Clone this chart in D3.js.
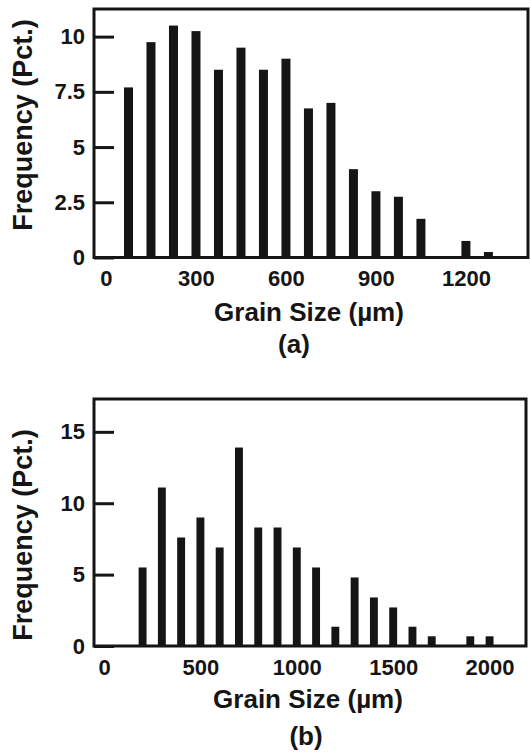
<!DOCTYPE html>
<html>
<head>
<meta charset="utf-8">
<script src="https://cdn.jsdelivr.net/npm/d3@7"></script>
<style>
  body { margin: 0; background: #ffffff; }
  svg text { font-family: "Liberation Sans", Arial, Helvetica, sans-serif; font-weight: bold; fill: #151515; }
</style>
</head>
<body>
<svg id="chart" width="530" height="752"></svg>
<script>
// panel (a)
const sizesA = [75, 150, 225, 300, 375, 450, 525, 600, 675, 750, 825, 900, 975, 1050, 1125, 1200, 1275];
const freqA = [7.7, 9.75, 10.5, 10.25, 8.5, 9.5, 8.5, 9.0, 6.75, 7.0, 4.0, 3.0, 2.75, 1.75, 0, 0.75, 0.25];
const xTicksA = [0, 300, 600, 900, 1200];
const yTicksA = [0, 2.5, 5, 7.5, 10];

// panel (b)
const sizesB = [200, 300, 400, 500, 600, 700, 800, 900, 1000, 1100, 1200, 1300, 1400, 1500, 1600, 1700, 1800, 1900, 2000];
const freqB = [5.5, 11.1, 7.6, 9.0, 6.9, 13.9, 8.3, 8.3, 6.9, 5.5, 1.35, 4.8, 3.4, 2.7, 1.35, 0.68, 0, 0.68, 0.68];
const xTicksB = [0, 500, 1000, 1500, 2000];
const yTicksB = [0, 5, 10, 15];

const xTitle = "Grain Size (\u00b5m)";
const yTitle = "Frequency (Pct.)";
const ink = "#151515";

const svg = d3.select("#chart");

function drawPanel(p) {
    const x = d3.scaleLinear().domain(p.xDomain).range([p.left, p.right]);
    const y = d3.scaleLinear().domain(p.yDomain).range([p.bottom, p.top]);
    const g = svg.append("g");

    // bars
    g.selectAll("rect.bar")
        .data(p.sizes.map((s, i) => ({ s: s, v: p.freq[i] })).filter(d => d.v > 0))
        .enter()
        .append("rect")
        .attr("class", "bar")
        .attr("x", d => x(d.s - p.binW / 2))
        .attr("width", d => x(d.s + p.binW / 2) - x(d.s - p.binW / 2))
        .attr("y", d => y(d.v))
        .attr("height", d => y(0) - y(d.v))
        .attr("fill", ink);

    // y axis, ticks pointing inward
    const yAxis = g.append("g")
        .attr("transform", "translate(" + p.left + ",0)")
        .call(d3.axisLeft(y).tickValues(p.yTicks).tickFormat(d3.format("")).tickSize(-20).tickPadding(9));
    yAxis.select(".domain").remove();
    yAxis.selectAll(".tick line").attr("stroke", ink).attr("stroke-width", 3);
    yAxis.selectAll(".tick text").style("font-size", "22px").attr("fill", ink);

    // x axis, labels only
    const xAxis = g.append("g")
        .attr("transform", "translate(0," + p.bottom + ")")
        .call(d3.axisBottom(x).tickValues(p.xTicks).tickFormat(d3.format("")).tickSize(0).tickPadding(13));
    xAxis.select(".domain").remove();
    xAxis.selectAll(".tick text").style("font-size", "22px").attr("fill", ink);

    // frame
    g.append("rect")
        .attr("x", p.left)
        .attr("y", p.top)
        .attr("width", p.right - p.left)
        .attr("height", p.bottom - p.top)
        .attr("fill", "none")
        .attr("stroke", ink)
        .attr("stroke-width", 3);

    g.append("text")
        .text(xTitle)
        .attr("x", p.titleX)
        .attr("y", p.titleY)
        .attr("text-anchor", "middle")
        .style("font-size", "26px");

    g.append("text")
        .text(p.tag)
        .attr("x", p.tagX)
        .attr("y", p.tagY)
        .attr("text-anchor", "middle")
        .style("font-size", "26px");

    g.append("text")
        .text(yTitle)
        .attr("transform", "translate(32," + p.yTitleY + ") rotate(-90)")
        .attr("text-anchor", "middle")
        .style("font-size", "27px");
}

drawPanel({
    sizes: sizesA, freq: freqA, xTicks: xTicksA, yTicks: yTicksA,
    xDomain: [-40, 1407], yDomain: [0, 11.25], binW: 30,
    left: 94, right: 528, top: 9, bottom: 257.5,
    titleX: 309, titleY: 321, tag: "(a)", tagX: 294, tagY: 353, yTitleY: 125
});

drawPanel({
    sizes: sizesB, freq: freqB, xTicks: xTicksB, yTicks: yTicksB,
    xDomain: [-52, 2189], yDomain: [0, 17.3], binW: 41,
    left: 94, right: 526, top: 399, bottom: 646,
    titleX: 308, titleY: 708, tag: "(b)", tagX: 306, tagY: 745, yTitleY: 535
});
</script>
</body>
</html>
